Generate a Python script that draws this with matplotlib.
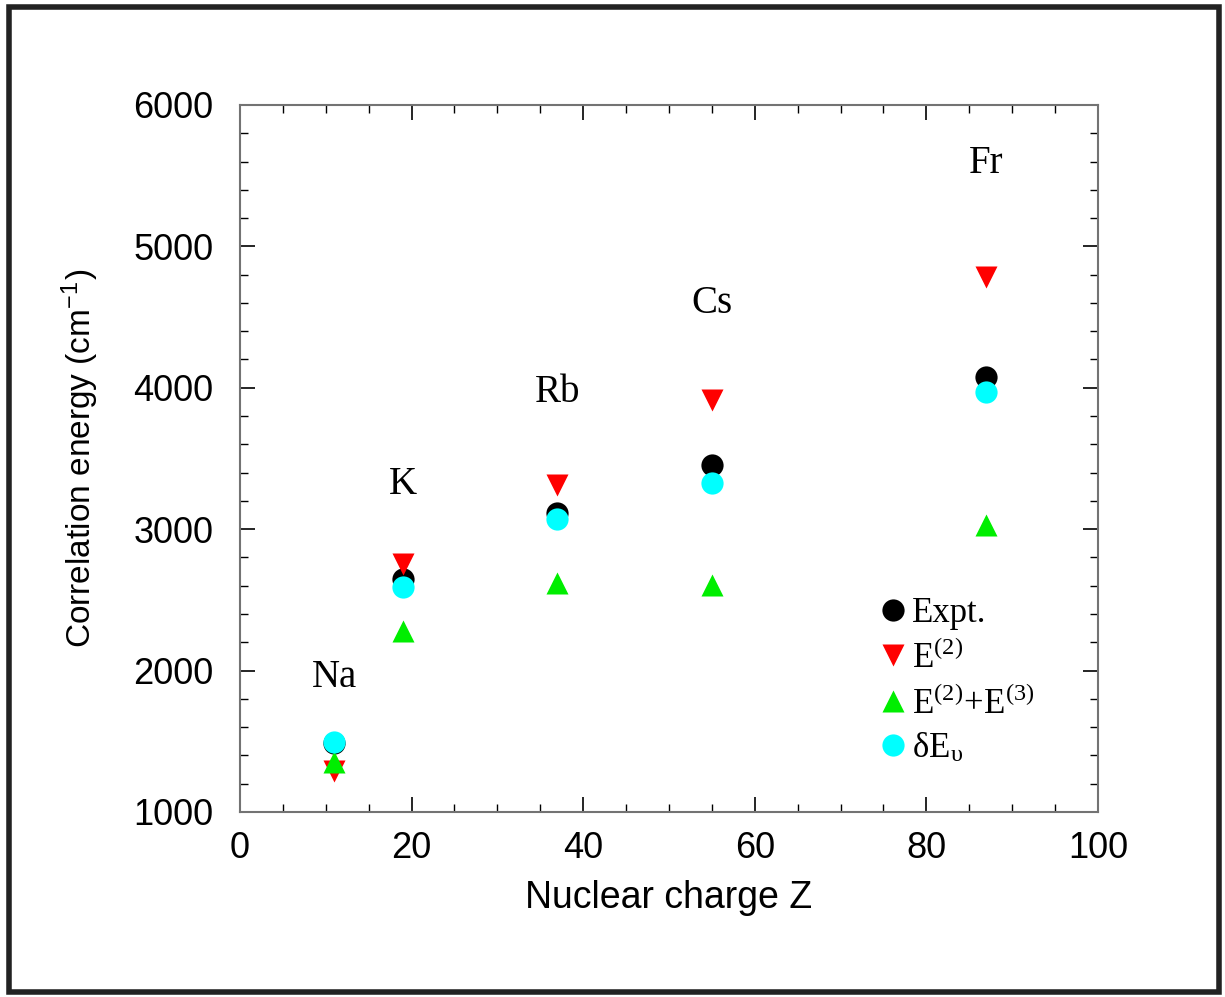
import matplotlib.pyplot as plt
from matplotlib.lines import Line2D
from matplotlib.patches import Rectangle
from matplotlib.ticker import MultipleLocator

plt.rcParams['font.family'] = ['Liberation Sans', 'DejaVu Sans']
plt.rcParams['mathtext.fontset'] = 'stix'

# nuclear charge and correlation energies (cm^-1)
Z = [11, 19, 37, 55, 87]
atoms = ['Na', 'K', 'Rb', 'Cs', 'Fr']
expt = [1490, 2648, 3115, 3454, 4076]
e2 = [1290, 2755, 3310, 3915, 4780]
e23 = [1350, 2280, 2620, 2605, 3030]
dEv = [1495, 2591, 3072, 3327, 3970]
label_y = [1950, 3315, 3965, 4595, 5585]

fig = plt.figure(figsize=(12.25, 9.97), dpi=100)
ax = fig.add_axes([0.1959, 0.1856, 0.7004, 0.7091])

ms = 16
ax.plot(Z, expt, 'o', color='black', ms=ms, mec='none', label='Expt.')
ax.plot(Z, e2, 'v', color='red', ms=ms, mec='none', label=r'E$^{\mathregular{(2)}}$')
ax.plot(Z, e23, '^', color='#00ee00', ms=ms, mec='none',
        label=r'E$^{\mathregular{(2)}}$+E$^{\mathregular{(3)}}$')
ax.plot(Z, dEv, 'o', color='cyan', ms=ms, mec='none', label=r'δE$_{\mathregular{υ}}$')

for z, name, y in zip(Z, atoms, label_y):
    ax.text(z, y, name, family='Liberation Serif', fontsize=28, ha='center', va='center')

ax.set_xlim(0, 100)
ax.set_ylim(1000, 6000)
ax.xaxis.set_major_locator(MultipleLocator(20))
ax.xaxis.set_minor_locator(MultipleLocator(5))
ax.yaxis.set_major_locator(MultipleLocator(1000))
ax.yaxis.set_minor_locator(MultipleLocator(200))
ax.tick_params(which='both', direction='in', top=True, right=True, labelsize=26)
ax.tick_params(which='major', length=11, width=1.2)
ax.tick_params(which='minor', length=6, width=1.0)
ax.tick_params(axis='x', which='major', pad=14)
ax.tick_params(axis='y', which='major', pad=19)
for s in ax.spines.values():
    s.set_color('0.45')
    s.set_linewidth(1.5)

ax.set_xlabel('Nuclear charge Z', fontsize=27, labelpad=10)
ax.set_ylabel(r'Correlation energy (cm$^{\mathregular{-1}}$)', fontsize=24, labelpad=24)

ax.legend(loc='upper left', bbox_to_anchor=(0.743, 0.304), frameon=False,
          prop={'family': 'Liberation Serif', 'size': 25},
          handletextpad=0.1, labelspacing=0.3, handlelength=0.9,
          borderaxespad=0, borderpad=0)

fig.patches.append(Rectangle((0.007, 0.005), 0.988, 0.988, transform=fig.transFigure,
                             fill=False, edgecolor='#222222', linewidth=4))

fig.savefig('out.png', dpi=100)
